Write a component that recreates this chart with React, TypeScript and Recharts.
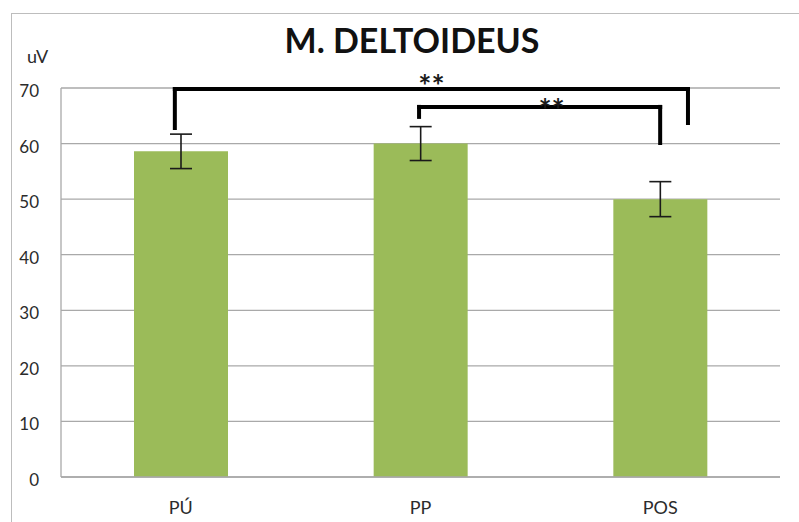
import { BarChart, Bar, XAxis, YAxis, CartesianGrid, ErrorBar, ReferenceLine } from 'recharts';

// Mean EMG amplitude (uV) per phase, with error bar half-widths
const phases = ['PÚ', 'PP', 'POS'];
const means = [58.6, 60.0, 50.0];
const errors = [3.1, 3.05, 3.15];
const yTicks = [0, 10, 20, 30, 40, 50, 60, 70];

// Significance brackets, in bracket-axis units (x: 0..3 across the categories, y: uV)
const bracketX = [
  [0.475, 2.616],
  [1.494, 2.5],
];
const bracketTop = [69.8, 66.6];
const bracketFoot = [
  [62.8, 63.7],
  [64.8, 60.1],
];
const bracketMarks = ['**', '**'];

// slot = centre of each category on the bracket axis
const data = phases.map((name, i) => ({ name, slot: i + 0.5, value: means[i], err: errors[i] }));

const FONT = 'Lato, "Open Sans", sans-serif';
const TEXT = '#2b2b2b';

export default function App() {
  return (
    <div style={{ position: 'absolute', left: 0, top: 0, width: 799, height: 522, overflow: 'hidden', background: '#fff' }}>
      {/* outer chart frame */}
      <div style={{ position: 'absolute', left: 11, top: 13, width: 820, height: 540, border: '1px solid #bdbdbd' }} />
      <div
        style={{
          position: 'absolute',
          left: 0,
          width: 824,
          top: 19,
          textAlign: 'center',
          fontFamily: FONT,
          fontWeight: 700,
          fontSize: 34,
          color: '#111',
        }}
      >
        M. DELTOIDEUS
      </div>
      <div style={{ position: 'absolute', left: 27, top: 45, fontFamily: FONT, fontSize: 18, color: TEXT }}>uV</div>
      <div style={{ position: 'absolute', left: 0, top: 0 }}>
        <BarChart width={799} height={522} data={data} margin={{ top: 88, right: 19, bottom: 15, left: 21 }}>
          <CartesianGrid xAxisId="cat" vertical={false} stroke="#a9a9a9" strokeWidth={1.3} />
          <XAxis
            xAxisId="cat"
            dataKey="name"
            height={30}
            tickLine={false}
            axisLine={{ stroke: '#a9a9a9', strokeWidth: 1.3 }}
            tickSize={0}
            tickMargin={24}
            tick={{ fontFamily: FONT, fontSize: 18, fill: TEXT }}
          />
          <XAxis
            xAxisId="br"
            dataKey="slot"
            type="number"
            orientation="top"
            height={0}
            domain={[0, 3]}
            allowDataOverflow
            hide
          />
          <YAxis
            width={40}
            domain={[0, 70]}
            ticks={yTicks}
            interval={0}
            tickLine={false}
            axisLine={{ stroke: '#a9a9a9', strokeWidth: 1.3 }}
            tickSize={0}
            tickMargin={22}
            tick={{ fontFamily: FONT, fontSize: 17, fill: TEXT, dy: 3 }}
          />
          <Bar xAxisId="cat" dataKey="value" fill="#9bbb59" barSize={94} isAnimationActive={false}>
            <ErrorBar dataKey="err" width={11} stroke="#1a1a1a" strokeWidth={1.6} />
          </Bar>
          {bracketX.map((xs, i) => (
            <ReferenceLine
              key={`l${i}`}
              xAxisId="br"
              segment={[
                { x: xs[0], y: bracketFoot[i][0] },
                { x: xs[0], y: bracketTop[i] },
              ]}
              stroke="#000"
              strokeWidth={4}
              strokeLinecap="square"
              ifOverflow="visible"
            />
          ))}
          {bracketX.map((xs, i) => (
            <ReferenceLine
              key={`r${i}`}
              xAxisId="br"
              segment={[
                { x: xs[1], y: bracketFoot[i][1] },
                { x: xs[1], y: bracketTop[i] },
              ]}
              stroke="#000"
              strokeWidth={4}
              strokeLinecap="square"
              ifOverflow="visible"
            />
          ))}
          {bracketX.map((xs, i) => (
            <ReferenceLine
              key={`t${i}`}
              xAxisId="br"
              segment={[
                { x: xs[0], y: bracketTop[i] },
                { x: xs[1], y: bracketTop[i] },
              ]}
              stroke="#000"
              strokeWidth={4}
              strokeLinecap="square"
              ifOverflow="visible"
              label={{
                value: bracketMarks[i],
                position: 'top',
                offset: i === 1 ? -14 : -8,
                dx: i === 1 ? 12 : 0,
                fill: '#1a1a1a',
                fontFamily: FONT,
                fontSize: 31,
                fontWeight: 700,
              }}
            />
          ))}
        </BarChart>
      </div>
    </div>
  );
}
